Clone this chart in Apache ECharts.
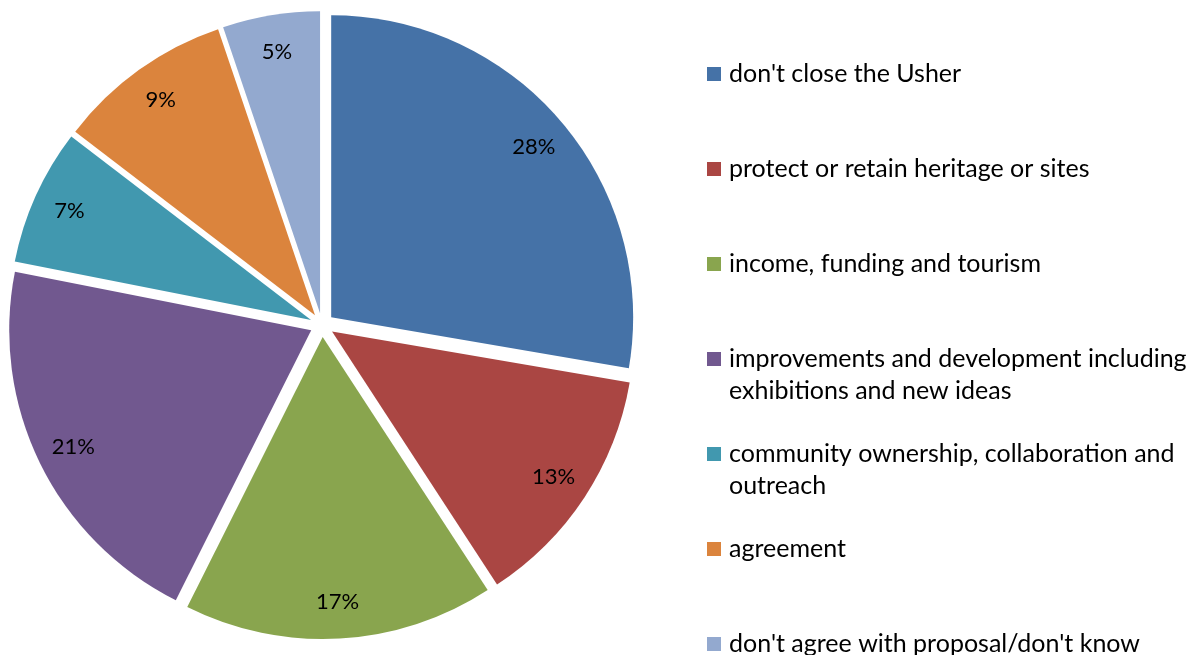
<!DOCTYPE html>
<html><head><meta charset="utf-8">
<script src="https://cdn.jsdelivr.net/npm/echarts@6/dist/echarts.min.js"></script>
<style>html,body{margin:0;padding:0;background:#fff}#c{width:1199px;height:655px}</style>
</head><body><div id="c"></div>
<script>
const categories = [
  "don't close the Usher",
  "protect or retain heritage or sites",
  "income, funding and tourism",
  "improvements and development including\nexhibitions and new ideas",
  "community ownership, collaboration and\noutreach",
  "agreement",
  "don't agree with proposal/don't know"
];
// shares (%); labels show them rounded
const values = [27.7, 13.1, 16.6, 20.7, 7.3, 9.4, 5.2];
const colors = ['#4572A7', '#AA4643', '#89A54E', '#71588F', '#4198AF', '#DB843D', '#93A9CF'];

const FONT = 'Lato';
const mainData = categories.map((n, i) => ({name: n, value: values[i], selected: true, itemStyle: {color: colors[i]}}));
const labelData = categories.map((n, i) => ({name: n, value: values[i], selected: true}));

const chart = echarts.init(document.getElementById('c'));
chart.setOption({
  animation: false,
  legend: {
    orient: 'vertical',
    left: 707,
    top: 58,
    height: 640,
    padding: 0,
    itemGap: 31,
    itemWidth: 14,
    itemHeight: 46,
    icon: 'path://M0,0h14v14h-14z M0,46',
    itemStyle: {borderWidth: 0},
    data: categories,
    formatter: n => n.indexOf('\n') >= 0 ? n : n + '\n ',
    textStyle: {fontFamily: FONT, fontSize: 25, color: '#000', lineHeight: 32, padding: [0, 0, 0, 3]},
    selectedMode: false
  },
  series: [
    {
      type: 'pie',
      center: [322, 325],
      radius: [0, 302],
      startAngle: 90,
      clockwise: true,
      selectedMode: 'multiple',
      selectedOffset: 12,
      silent: true,
      label: {show: false},
      labelLine: {show: false},
      data: mainData
    },
    {
      type: 'pie',
      center: [322, 325],
      radius: [222, 302],
      startAngle: 90,
      clockwise: true,
      selectedMode: 'multiple',
      selectedOffset: 12,
      silent: true,
      itemStyle: {color: 'transparent', borderWidth: 0},
      label: {show: true, position: 'inside', formatter: p => Math.round(p.percent) + '%', fontFamily: FONT, fontSize: 22, color: '#000'},
      labelLine: {show: false},
      data: labelData
    }
  ]
});
</script></body></html>
